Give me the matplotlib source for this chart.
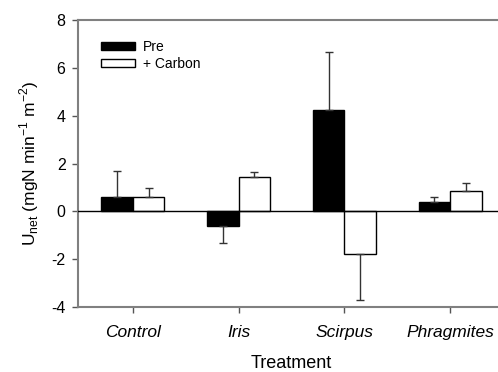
import numpy as np
import matplotlib
matplotlib.use('Agg')
import matplotlib.pyplot as plt

plt.rcParams['font.family'] = ['Liberation Sans', 'DejaVu Sans']
plt.rcParams['axes.unicode_minus'] = False

treatments = ['Control', 'Iris', 'Scirpus', 'Phragmites']
pre = [0.61, -0.60, 4.22, 0.39]
pre_err = [1.06, 0.71, 2.46, 0.21]
carbon = [0.60, 1.42, -1.79, 0.86]
carbon_err = [0.36, 0.24, 1.92, 0.32]


def one_sided(vals, errs):
    # error bar only away from zero
    lo = [e if v < 0 else 0 for v, e in zip(vals, errs)]
    hi = [e if v >= 0 else 0 for v, e in zip(vals, errs)]
    return [lo, hi]


fig = plt.figure(figsize=(4.98, 3.72), dpi=100)
ax = fig.add_axes([78 / 498, 1 - 307 / 372, 427 / 498, 287 / 372])

x = np.arange(len(treatments))
w = 0.30
ekw = dict(ecolor='#333333', elinewidth=1.0, capsize=3.2, capthick=1.0)
ax.bar(x - w / 2, pre, w, color='black', edgecolor='black', linewidth=1.0,
       yerr=one_sided(pre, pre_err), error_kw=ekw, label='Pre', zorder=2)
ax.bar(x + w / 2, carbon, w, color='white', edgecolor='black', linewidth=1.0,
       yerr=one_sided(carbon, carbon_err), error_kw=ekw, label='+ Carbon', zorder=2)
ax.axhline(0, color='black', linewidth=1.0, zorder=3)

ax.set_xlim(-0.517, 3.517)
ax.set_ylim(-4, 8)
ax.set_yticks([-4, -2, 0, 2, 4, 6, 8])
ax.set_xticks(x)
ax.set_xticklabels(treatments, fontstyle='italic', fontsize=12.5)
ax.tick_params(axis='y', labelsize=11.5, direction='out', length=4, color='#555555', width=1, pad=5)
ax.tick_params(axis='x', direction='out', length=4, color='#555555', width=1, pad=9)

for s in ['left', 'bottom', 'top']:
    ax.spines[s].set_color('#808080')
    ax.spines[s].set_linewidth(1.5)
ax.spines['right'].set_visible(False)

ax.set_xlabel('Treatment', fontsize=13, labelpad=11)
ax.set_ylabel(r'U$_{\mathregular{net}}$ (mgN min$^{\mathregular{-1}}$ m$^{\mathregular{-2}}$)',
              fontsize=12.5, labelpad=7)

ax.legend(loc='upper left', bbox_to_anchor=(0.025, 0.975), frameon=False, fontsize=10,
          handlelength=2.4, handleheight=0.55, handletextpad=0.6, labelspacing=0.25,
          borderaxespad=0.5)

fig.savefig('out.png', dpi=100)
